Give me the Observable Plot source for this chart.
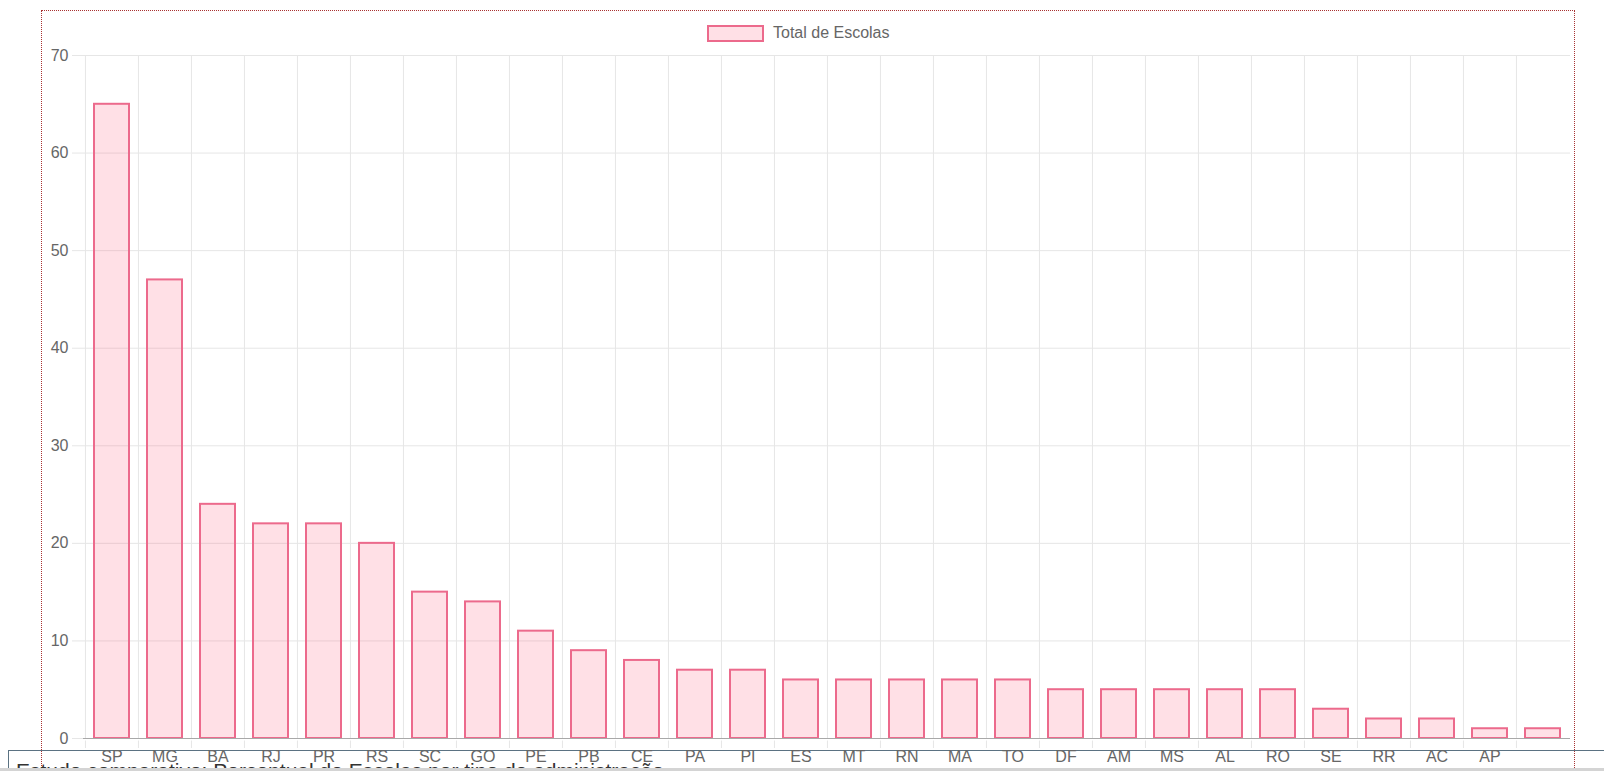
<!DOCTYPE html>
<html>
<head>
<meta charset="utf-8">
<script src="https://cdn.jsdelivr.net/npm/d3@7"></script>
<script src="https://cdn.jsdelivr.net/npm/@observablehq/plot@0.6"></script>
<style>
html, body { margin: 0; padding: 0; background: #fff; overflow: hidden; width: 1604px; height: 771px;
  font-family: "Liberation Sans", Arial, Helvetica, sans-serif; }
#frame { position: absolute; left: 41px; top: 10px; width: 1532px; height: 800px; border: 1px dotted #a83232; z-index: 0; }
#legend { position: relative; height: 45px; z-index: 2; }
#legend .sw { position: absolute; left: 707px; top: 25px; width: 53px; height: 13px;
  background: rgba(255, 99, 132, 0.2); border: 2px solid #ec6a8c; }
#legend .lb { position: absolute; left: 773px; top: 24px; font-size: 16px; color: #666; line-height: 18px; white-space: nowrap; }
#chart { position: relative; z-index: 2; }
#box { position: absolute; left: 8px; top: 750px; width: 1700px; height: 60px;
  border-top: 1px solid #5b7282; border-left: 1px solid #5b7282; z-index: 1; }
#box span { position: absolute; left: 7px; top: 8px; font-size: 21px; color: #333; white-space: nowrap; }
#scroll { position: absolute; left: 0; top: 768px; width: 1604px; height: 3px; background: #d4d4d4; z-index: 3; }
</style>
</head>
<body>
<div id="frame"></div>
<div id="legend"><div class="sw"></div><div class="lb">Total de Escolas</div></div>
<div id="chart"></div>
<div id="box"><span>Estudo comparativo: Percentual de Escolas por tipo de administração</span></div>
<div id="scroll"></div>
<script>
const estados = ["SP","MG","BA","RJ","PR","RS","SC","GO","PE","PB","CE","PA","PI","ES","MT","RN","MA","TO","DF","AM","MS","AL","RO","SE","RR","AC","AP",""];
const totalEscolas = [65,47,24,22,22,20,15,14,11,9,8,7,7,6,6,6,6,6,5,5,5,5,5,3,2,2,1,1];
const yTicks = [0,10,20,30,40,50,60,70];

const data = estados.map((e, i) => ({estado: e, total: totalEscolas[i]}));

const W = 1604, H = 726, ML = 83, MR = 34, MT = 10, MB = 33;
const bw = (W - ML - MR) / estados.length;
const grid = "#e6e6e6";

const chart = Plot.plot({
  width: W,
  height: H,
  marginLeft: ML,
  marginRight: MR,
  marginTop: MT,
  marginBottom: MB,
  style: {fontSize: "16px", fontFamily: "'Liberation Sans', Arial, Helvetica, sans-serif", color: "#666", background: "transparent", overflow: "visible"},
  x: {domain: estados, padding: 0, label: null},
  y: {domain: [0, 70], label: null},
  marks: [
    Plot.gridY(yTicks, {stroke: grid, strokeOpacity: 1}),
    Plot.gridX(estados, {stroke: grid, strokeOpacity: 1, dx: -bw / 2}),
    Plot.axisX(estados, {tickSize: 10, stroke: grid, strokeOpacity: 1, dx: -bw / 2, tickFormat: () => "", label: null}),
    Plot.axisY(yTicks, {tickSize: 11, tickPadding: 4, stroke: grid, strokeOpacity: 1, fill: "#666", label: null}),
    Plot.barY(data, {x: "estado", y: "total", fill: "rgba(255,99,132,0.2)", stroke: "#ec6a8c", strokeWidth: 2, insetLeft: 9, insetRight: 9}),
    Plot.ruleY([0], {stroke: "#fff", strokeWidth: 2, dy: 1}),
    Plot.ruleY([0], {stroke: "#a8a8a8", strokeWidth: 1}),
    Plot.axisX(estados, {tickSize: 0, tickPadding: 12, fill: "#666", label: null})
  ]
});
document.getElementById("chart").appendChild(chart);
</script>
</body>
</html>
